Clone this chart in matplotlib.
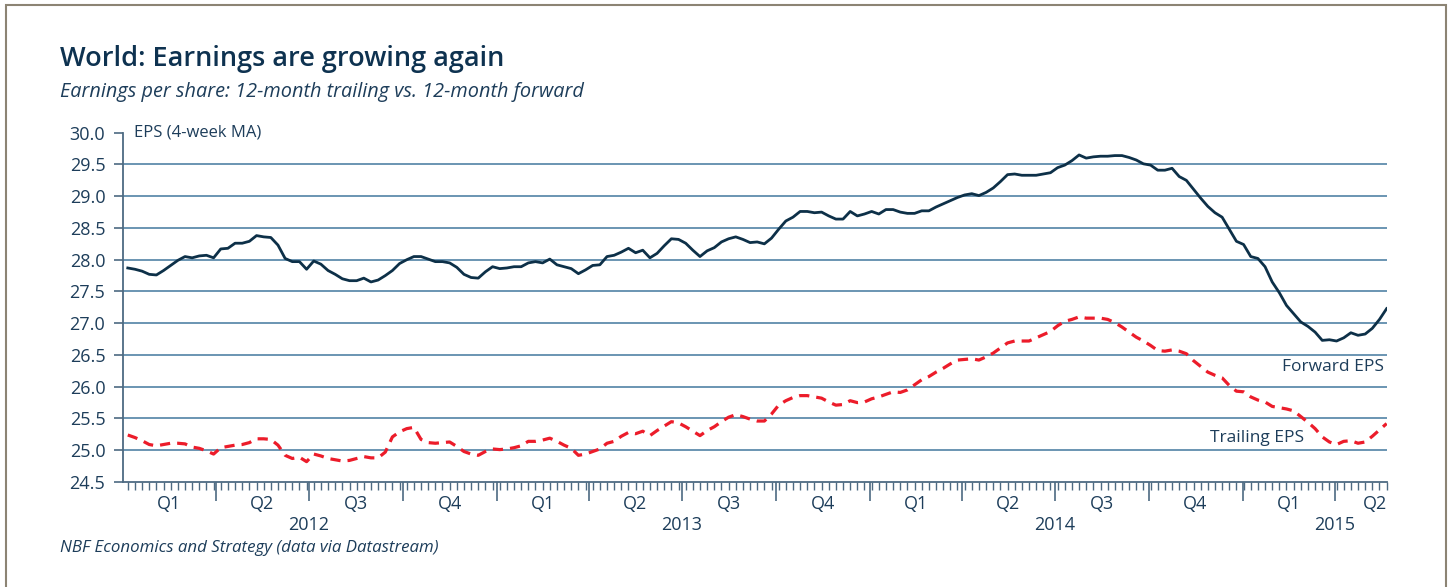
# World EPS: 12-month trailing vs forward (4-week MA)
import numpy as np
import pandas as pd
import matplotlib
matplotlib.use("Agg")
import matplotlib.pyplot as plt
import matplotlib.transforms as mtransforms
from matplotlib.patches import Rectangle

plt.rcParams['font.family'] = ['Open Sans', 'DejaVu Sans']

# weekly observations, Jan 2012 - May 2015
dates = pd.date_range("2012-01-06", periods=177, freq="7D")

forward_eps = [
    27.87, 27.85, 27.82, 27.77, 27.76, 27.83, 27.91, 27.99, 28.05, 28.03,
    28.06, 28.07, 28.03, 28.17, 28.18, 28.26, 28.26, 28.29, 28.38, 28.36,
    28.35, 28.23, 28.02, 27.97, 27.97, 27.85, 27.98, 27.93, 27.83, 27.77,
    27.70, 27.67, 27.67, 27.71, 27.65, 27.68, 27.75, 27.83, 27.94, 28.00,
    28.05, 28.05, 28.01, 27.97, 27.97, 27.95, 27.88, 27.77, 27.72, 27.71,
    27.81, 27.89, 27.86, 27.87, 27.89, 27.89, 27.95, 27.97, 27.95, 28.01,
    27.92, 27.89, 27.86, 27.78, 27.84, 27.91, 27.92, 28.05, 28.07, 28.12,
    28.18, 28.11, 28.15, 28.03, 28.10, 28.22, 28.33, 28.32, 28.26, 28.15,
    28.05, 28.14, 28.19, 28.28, 28.33, 28.36, 28.32, 28.27, 28.28, 28.25,
    28.34, 28.48, 28.61, 28.67, 28.76, 28.76, 28.74, 28.75, 28.69, 28.64,
    28.64, 28.76, 28.69, 28.72, 28.76, 28.72, 28.79, 28.79, 28.75, 28.73,
    28.73, 28.77, 28.77, 28.83, 28.88, 28.93, 28.98, 29.02, 29.04, 29.01,
    29.06, 29.13, 29.23, 29.34, 29.35, 29.33, 29.33, 29.33, 29.35, 29.37,
    29.45, 29.49, 29.56, 29.65, 29.60, 29.62, 29.63, 29.63, 29.64, 29.64,
    29.61, 29.57, 29.51, 29.49, 29.41, 29.41, 29.44, 29.31, 29.25, 29.11,
    28.97, 28.84, 28.74, 28.67, 28.48, 28.29, 28.24, 28.05, 28.02, 27.89,
    27.65, 27.48, 27.28, 27.15, 27.02, 26.95, 26.86, 26.73, 26.74, 26.72,
    26.77, 26.85, 26.81, 26.83, 26.92, 27.06, 27.23,
]

trailing_eps = [
    25.24, 25.20, 25.15, 25.09, 25.07, 25.09, 25.11, 25.11, 25.10, 25.05,
    25.03, 24.99, 24.94, 25.04, 25.06, 25.08, 25.09, 25.12, 25.18, 25.18,
    25.17, 25.08, 24.92, 24.87, 24.89, 24.82, 24.94, 24.91, 24.87, 24.85,
    24.83, 24.84, 24.87, 24.90, 24.88, 24.88, 24.97, 25.21, 25.29, 25.34,
    25.36, 25.17, 25.12, 25.11, 25.12, 25.13, 25.06, 24.98, 24.94, 24.92,
    24.98, 25.02, 25.01, 25.02, 25.04, 25.07, 25.14, 25.14, 25.16, 25.19,
    25.14, 25.08, 25.03, 24.92, 24.94, 24.98, 25.02, 25.11, 25.14, 25.22,
    25.28, 25.26, 25.30, 25.23, 25.31, 25.38, 25.45, 25.43, 25.37, 25.30,
    25.23, 25.31, 25.37, 25.45, 25.52, 25.56, 25.53, 25.49, 25.46, 25.46,
    25.57, 25.71, 25.78, 25.83, 25.86, 25.86, 25.84, 25.82, 25.76, 25.71,
    25.72, 25.78, 25.75, 25.76, 25.81, 25.84, 25.88, 25.92, 25.91, 25.95,
    26.03, 26.11, 26.16, 26.23, 26.29, 26.36, 26.42, 26.43, 26.44, 26.42,
    26.47, 26.53, 26.61, 26.69, 26.72, 26.72, 26.72, 26.77, 26.82, 26.87,
    26.96, 27.03, 27.06, 27.10, 27.08, 27.08, 27.08, 27.06, 27.01, 26.94,
    26.86, 26.78, 26.72, 26.65, 26.57, 26.56, 26.58, 26.56, 26.52, 26.41,
    26.32, 26.23, 26.18, 26.14, 26.02, 25.93, 25.92, 25.84, 25.79, 25.76,
    25.69, 25.67, 25.65, 25.62, 25.53, 25.44, 25.34, 25.21, 25.13, 25.09,
    25.14, 25.15, 25.11, 25.13, 25.22, 25.32, 25.42,
]

quarter_starts = pd.date_range("2012-01-01", "2015-04-01", freq="QS")
quarter_labels = ["Q1", "Q2", "Q3", "Q4"] * 3 + ["Q1", "Q2"]
years = ["2012", "2013", "2014", "2015"]
year_centers = pd.to_datetime(["2012-07-01", "2013-07-01", "2014-07-01", "2015-04-01"])

navy = "#0d3048"
text_col = "#1d3d5a"
red = "#ec1c2a"
grid_col = "#5f8cad"
axis_col = "#4d6a82"

fig = plt.figure(figsize=(14.5, 5.87), dpi=100)
ax = fig.add_axes([0.0846, 0.1789, 0.8717, 0.595])

ax.plot(dates, forward_eps, color=navy, lw=2.0, solid_joinstyle="round", zorder=3)
ax.plot(dates, trailing_eps, color=red, lw=2.3, dashes=(3.2, 2.2), zorder=3)

ax.set_ylim(24.5, 30.0)
ax.set_xlim(pd.Timestamp("2012-01-01"), dates[-1])
ax.set_yticks(np.arange(24.5, 30.01, 0.5))
ax.set_yticklabels([f"{v:.1f}" for v in np.arange(24.5, 30.01, 0.5)])
for v in np.arange(25.0, 29.51, 0.5):
    ax.axhline(v, color=grid_col, lw=1.3, zorder=1)

for s in ["top", "right"]:
    ax.spines[s].set_visible(False)
for s in ["left", "bottom"]:
    ax.spines[s].set_color(axis_col)
    ax.spines[s].set_linewidth(1.3)

ax.tick_params(axis="y", direction="out", length=6.5, width=1.2, color=axis_col,
               labelsize=13, labelcolor=text_col, pad=6)
ax.set_xticks(quarter_starts[1:])
ax.set_xticklabels([])
ax.set_xticks(dates, minor=True)
ax.tick_params(axis="x", which="major", direction="out", length=14, width=1.2, color=axis_col)
ax.tick_params(axis="x", which="minor", direction="out", length=6, width=1.0, color=axis_col)

trans = mtransforms.blended_transform_factory(ax.transData, ax.transAxes)
for i, q in enumerate(quarter_labels):
    start = quarter_starts[i]
    if i + 1 < len(quarter_starts):
        mid = start + (quarter_starts[i + 1] - start) / 2
        ax.text(mid, -0.038, q, transform=trans, ha="center", va="top",
                fontsize=13, color=text_col)
    else:
        ax.text(dates[-1], -0.038, q, transform=trans, ha="right", va="top",
                fontsize=13, color=text_col)
for y, c in zip(years, year_centers):
    ax.text(c, -0.098, y, transform=trans, ha="center", va="top",
            fontsize=13, color=text_col)

ax.text(0.009, 1.0, "EPS (4-week MA)", transform=ax.transAxes, ha="left",
        va="center", fontsize=12, color=text_col)
ax.text(0.998, 0.33, "Forward EPS", transform=ax.transAxes, ha="right",
        va="center", fontsize=12.5, color=text_col)
ax.text(0.935, 0.125, "Trailing EPS", transform=ax.transAxes, ha="right",
        va="center", fontsize=12.5, color=text_col)

fig.text(0.0414, 0.9, "World: Earnings are growing again", fontsize=19.5,
         fontweight="semibold", color="#0e3250", va="center", ha="left")
fig.text(0.0414, 0.843, "Earnings per share: 12-month trailing vs. 12-month forward",
         fontsize=14.3, style="italic", color=text_col, va="center", ha="left")
fig.text(0.0414, 0.066, "NBF Economics and Strategy (data via Datastream)",
         fontsize=12.2, style="italic", color=text_col, va="center", ha="left")

# thin frame around the panel
fig.patches.append(Rectangle((6 / 1450, -0.05), 1440 / 1450, 1.05 - 5 / 587,
                             transform=fig.transFigure, fill=False,
                             edgecolor="#8c8474", lw=1.5))

fig.savefig("out.png", dpi=100)
